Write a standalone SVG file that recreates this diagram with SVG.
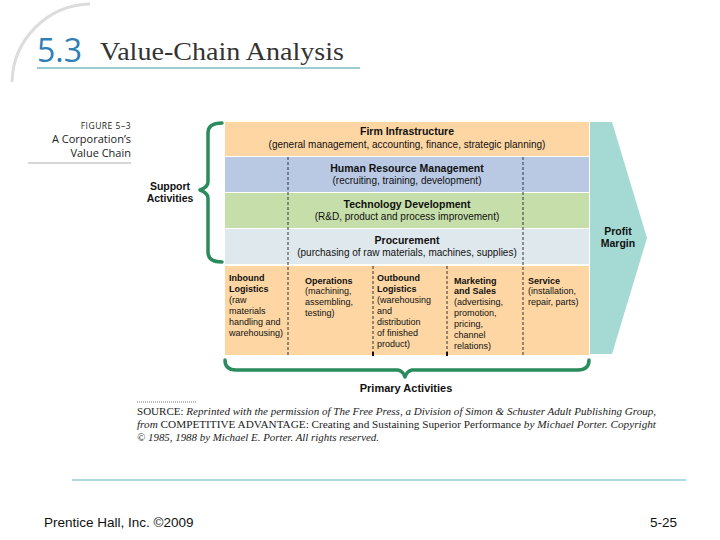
<svg xmlns="http://www.w3.org/2000/svg" width="720" height="540" viewBox="0 0 720 540">
<style>
.t{font-family:"Liberation Sans",Arial,sans-serif;fill:#111}
.h{font-size:10.5px;font-weight:bold}
.s{font-size:10px}
.p{font-size:9px}
.pb{font-size:9px;font-weight:bold}
.lb{font-size:10.5px;font-weight:bold}
.src{font-family:"Liberation Serif","Times New Roman",serif;font-size:10px;fill:#222}
.dash{stroke:#333;stroke-width:1;stroke-dasharray:3,2;fill:none}
.brace{fill:none;stroke:#2a8c5c;stroke-width:3.5;stroke-linejoin:round;stroke-linecap:round}
.fl{font-family:"Open Sans","Noto Sans",sans-serif;fill:#222}
</style>
<rect width="720" height="540" fill="#fff"/>
<g id="header">
<path d="M 90 4 A 80 80 0 0 0 12 82" fill="none" stroke="#dcdcdc" stroke-width="3"/>
<text x="37" y="62" font-family="'Open Sans','Noto Sans',sans-serif" font-size="32" fill="#2f7fb6">5.3</text>
<text x="100" y="60" font-family="'Liberation Serif','Times New Roman',serif" font-size="25" fill="#333" textLength="244" lengthAdjust="spacingAndGlyphs">Value-Chain Analysis</text>
<line x1="37" y1="68" x2="360" y2="68" stroke="#3b9aa6" stroke-width="1.2"/>
</g>
<g id="figlabel">
<text class="fl" x="131" y="129" text-anchor="end" font-size="8.5" fill="#777" letter-spacing="0.5">FIGURE 5–3</text>
<text class="fl" x="131" y="143" text-anchor="end" font-size="11">A Corporation’s</text>
<text class="fl" x="131" y="157" text-anchor="end" font-size="11">Value Chain</text>
<line x1="28" y1="163" x2="131" y2="163" stroke="#999" stroke-width="0.8"/>
</g>
<g id="profit-margin">
<polygon points="590,122 612,122 647,238 612,354 590,354" fill="#a4d9d4"/>
<text class="t lb" x="618" y="235" text-anchor="middle">Profit</text>
<text class="t lb" x="618" y="247" text-anchor="middle">Margin</text>
</g>
<g id="firm-infrastructure">
<rect x="225" y="122" width="364" height="34" fill="#fdd6a4"/>
<text class="t h" x="407" y="135" text-anchor="middle">Firm Infrastructure</text>
<text class="t s" x="407" y="148" text-anchor="middle">(general management, accounting, finance, strategic planning)</text>
</g>
<g id="human-resource">
<rect x="225" y="157" width="364" height="35" fill="#b9c9e4"/>
<text class="t h" x="407" y="172" text-anchor="middle">Human Resource Management</text>
<text class="t s" x="407" y="184" text-anchor="middle">(recruiting, training, development)</text>
</g>
<g id="technology">
<rect x="225" y="193" width="364" height="35" fill="#c6dea9"/>
<text class="t h" x="407" y="208" text-anchor="middle">Technology Development</text>
<text class="t s" x="407" y="220" text-anchor="middle">(R&amp;D, product and process improvement)</text>
</g>
<g id="procurement">
<rect x="225" y="229" width="364" height="35" fill="#dfe8ed"/>
<text class="t h" x="407" y="244" text-anchor="middle">Procurement</text>
<text class="t s" x="407" y="256" text-anchor="middle">(purchasing of raw materials, machines, supplies)</text>
</g>
<g id="primary">
<rect x="225" y="266" width="364" height="89" fill="#fdd6a4"/>
</g>
<g id="connectors">
<line class="dash" x1="288" y1="157" x2="288" y2="355"/>
<line class="dash" x1="523" y1="157" x2="523" y2="355"/>
<line class="dash" x1="373" y1="266" x2="373" y2="355"/>
<line class="dash" x1="447" y1="266" x2="447" y2="355"/>
<line x1="373" y1="352" x2="373" y2="356" stroke="#111" stroke-width="2"/>
<line x1="447" y1="352" x2="447" y2="356" stroke="#111" stroke-width="2"/>
<path class="brace" d="M 222 123 Q 208 123 208 133 L 208 182 Q 208 187 200 190 Q 208 193 208 198 L 208 252 Q 208 262 222 262"/>
<path class="brace" d="M 225 360 Q 225 370 236 370 L 398 370 Q 403 371 405 377 Q 407 371 412 370 L 578 370 Q 589 370 589 360"/>
</g>
<g id="support-label">
<text class="t lb" x="170" y="190" text-anchor="middle">Support</text>
<text class="t lb" x="170" y="202" text-anchor="middle">Activities</text>
</g>
<g id="inbound">
<text class="t pb" x="229" y="281">Inbound</text>
<text class="t pb" x="229" y="292">Logistics</text>
<text class="t p" x="229" y="303">(raw</text>
<text class="t p" x="229" y="314">materials</text>
<text class="t p" x="229" y="325">handling and</text>
<text class="t p" x="229" y="336">warehousing)</text>
</g>
<g id="operations">
<text class="t pb" x="305" y="284">Operations</text>
<text class="t p" x="305" y="294">(machining,</text>
<text class="t p" x="305" y="305">assembling,</text>
<text class="t p" x="305" y="316">testing)</text>
</g>
<g id="outbound">
<text class="t pb" x="377" y="281">Outbound</text>
<text class="t pb" x="377" y="292">Logistics</text>
<text class="t p" x="377" y="303">(warehousing</text>
<text class="t p" x="377" y="314">and</text>
<text class="t p" x="377" y="325">distribution</text>
<text class="t p" x="377" y="336">of finished</text>
<text class="t p" x="377" y="347">product)</text>
</g>
<g id="marketing">
<text class="t pb" x="454" y="284">Marketing</text>
<text class="t pb" x="454" y="294">and Sales</text>
<text class="t p" x="454" y="305">(advertising,</text>
<text class="t p" x="454" y="316">promotion,</text>
<text class="t p" x="454" y="327">pricing,</text>
<text class="t p" x="454" y="338">channel</text>
<text class="t p" x="454" y="349">relations)</text>
</g>
<g id="service">
<text class="t pb" x="528" y="284">Service</text>
<text class="t p" x="528" y="294">(installation,</text>
<text class="t p" x="528" y="305">repair, parts)</text>
</g>
<g id="primary-label">
<text class="t" x="406" y="392" text-anchor="middle" font-size="11" font-weight="bold" fill="#222">Primary Activities</text>
</g>
<g id="source">
<line x1="137" y1="402" x2="197" y2="402" stroke="#555" stroke-width="0.8" stroke-dasharray="1,1"/>
<text class="src" x="137" y="415" textLength="519" lengthAdjust="spacingAndGlyphs">SOURCE: <tspan font-style="italic">Reprinted with the permission of The Free Press, a Division of Simon &amp; Schuster Adult Publishing Group,</tspan></text>
<text class="src" x="137" y="428" textLength="519" lengthAdjust="spacingAndGlyphs"><tspan font-style="italic">from</tspan> COMPETITIVE ADVANTAGE: Creating and Sustaining Superior Performance <tspan font-style="italic">by Michael Porter. Copyright</tspan></text>
<text class="src" x="137" y="441" font-style="italic" textLength="242" lengthAdjust="spacingAndGlyphs">© 1985, 1988 by Michael E. Porter. All rights reserved.</text>
</g>
<g id="footer">
<line x1="72" y1="480" x2="686" y2="480" stroke="#5fb8c6" stroke-width="1.2"/>
<text x="44" y="527" font-family="'Liberation Sans',Arial,sans-serif" font-size="13.5" fill="#111">Prentice Hall, Inc. ©2009</text>
<text x="677" y="527" text-anchor="end" font-family="'Liberation Sans',Arial,sans-serif" font-size="13.5" fill="#111">5-25</text>
</g>
</svg>
